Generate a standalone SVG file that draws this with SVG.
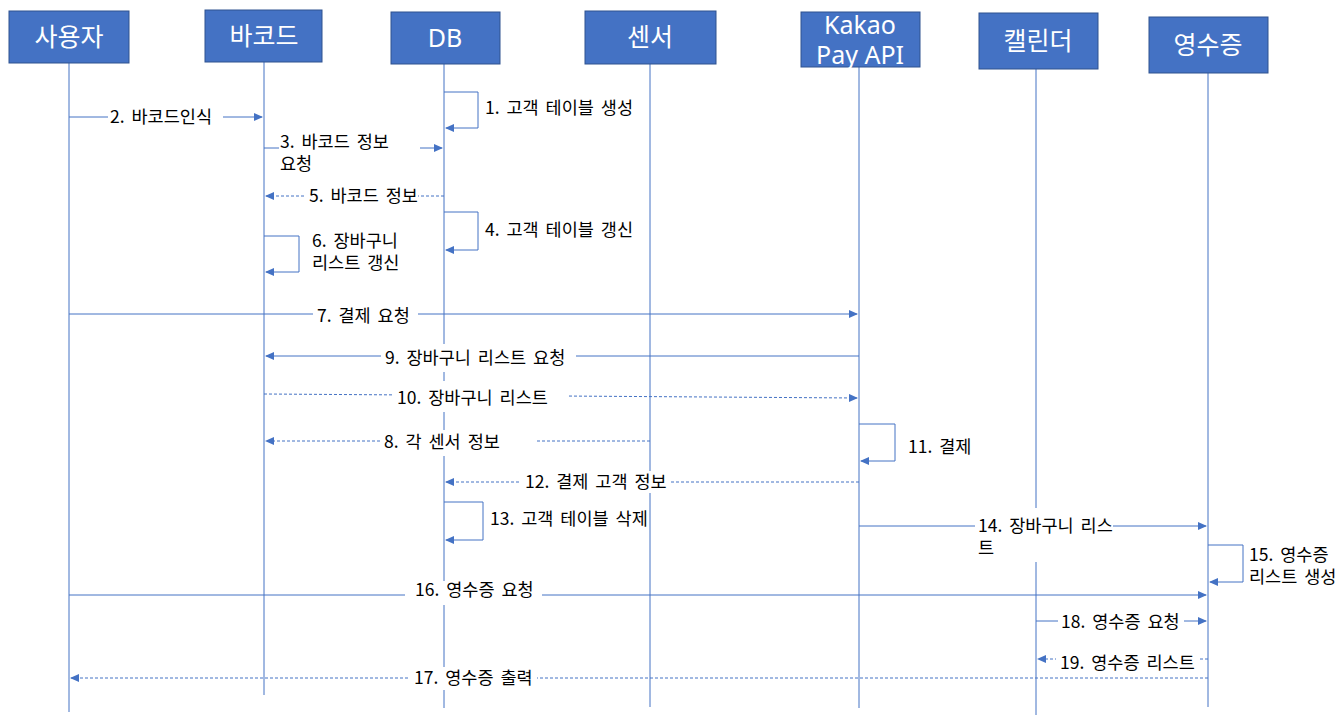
<svg xmlns="http://www.w3.org/2000/svg" width="1338" height="722" viewBox="0 0 1338 722">
<style>
.box{fill:#4472C4;stroke:#2F528F;stroke-width:1}
.ht{fill:#fff;font-family:"Noto Sans","Noto Sans CJK KR",sans-serif;font-size:25px;text-anchor:middle}
.life{stroke:#4472C4;stroke-width:1;fill:none}
.msg{stroke:#4472C4;stroke-width:1;fill:none;marker-end:url(#ah)}
.dash{stroke-dasharray:3 2}
.bg{fill:#fff}
.lb{fill:#000;font-family:"Noto Sans CJK KR","Noto Sans",sans-serif;font-size:17.5px;word-spacing:3px}
</style>
<defs>
<marker id="ah" markerUnits="userSpaceOnUse" markerWidth="9" markerHeight="8" refX="8" refY="4" orient="auto">
<path d="M0,0 L9,4 L0,8 z" fill="#4472C4"/>
</marker>
</defs>
<rect width="1338" height="722" fill="#fff"/>
<g id="user">
<line class="life" x1="69" y1="63" x2="69" y2="712"/>
<rect class="box" x="9" y="11" width="120" height="52"/>
<text class="ht" x="69" y="46">사용자</text>
</g>
<g id="barcode">
<line class="life" x1="264" y1="62" x2="264" y2="695"/>
<rect class="box" x="205" y="10" width="117" height="52"/>
<text class="ht" x="264" y="45">바코드</text>
</g>
<g id="db">
<line class="life" x1="444" y1="64" x2="444" y2="708"/>
<rect class="box" x="391" y="12" width="109" height="52"/>
<text class="ht" x="445" y="47">DB</text>
</g>
<g id="sensor">
<line class="life" x1="650" y1="64" x2="650" y2="707"/>
<rect class="box" x="585" y="11" width="131" height="53"/>
<text class="ht" x="650" y="46">센서</text>
</g>
<g id="kakao">
<line class="life" x1="859" y1="67" x2="859" y2="708"/>
<rect class="box" x="801" y="12" width="119" height="55"/>
<text class="ht" x="860" y="34">Kakao</text>
<text class="ht" x="860" y="64">Pay API</text>
</g>
<g id="calendar">
<line class="life" x1="1036" y1="69" x2="1036" y2="715"/>
<rect class="box" x="979" y="13" width="119" height="56"/>
<text class="ht" x="1038" y="50">캘린더</text>
</g>
<g id="receipt">
<line class="life" x1="1208" y1="73" x2="1208" y2="707"/>
<rect class="box" x="1149" y="17" width="119" height="56"/>
<text class="ht" x="1208" y="54">영수증</text>
</g>
<g id="connectors">
<path class="msg" d="M444,92 H478 V128 H446"/>
<text class="lb" x="485" y="114">1. 고객 테이블 생성</text>

<line class="msg" x1="69" y1="117" x2="262" y2="117"/>
<rect class="bg" x="108" y="107" width="115" height="21"/>
<text class="lb" x="110" y="123">2. 바코드인식</text>

<line class="msg" x1="264" y1="148" x2="442" y2="148"/>
<rect class="bg" x="279" y="133" width="141" height="42"/>
<text class="lb" x="280" y="148">3. 바코드 정보</text>
<text class="lb" x="280" y="170">요청</text>

<line class="msg dash" x1="444" y1="196" x2="266" y2="196"/>
<rect class="bg" x="305" y="186" width="113" height="21"/>
<text class="lb" x="309" y="202">5. 바코드 정보</text>

<path class="msg" d="M444,212 H478 V250 H446"/>
<text class="lb" x="485" y="236">4. 고객 테이블 갱신</text>

<path class="msg" d="M264,236 H299 V272 H266"/>
<text class="lb" x="312" y="247">6. 장바구니</text>
<text class="lb" x="312" y="269">리스트 갱신</text>

<line class="msg" x1="69" y1="314" x2="857" y2="314"/>
<rect class="bg" x="313" y="304" width="105" height="22"/>
<text class="lb" x="317" y="322">7. 결제 요청</text>

<line class="msg" x1="859" y1="356" x2="266" y2="356"/>
<rect class="bg" x="381" y="344" width="195" height="28"/>
<text class="lb" x="385" y="364">9. 장바구니 리스트 요청</text>

<line class="msg dash" x1="264" y1="394" x2="857" y2="398"/>
<rect class="bg" x="393" y="381" width="174" height="31"/>
<text class="lb" x="397" y="404">10. 장바구니 리스트</text>

<line class="msg dash" x1="650" y1="441" x2="266" y2="441"/>
<rect class="bg" x="380" y="430" width="155" height="26"/>
<text class="lb" x="384" y="448">8. 각 센서 정보</text>

<path class="msg" d="M859,424 H895 V461 H861"/>
<text class="lb" x="908" y="453">11. 결제</text>

<line class="msg dash" x1="859" y1="482" x2="446" y2="482"/>
<rect class="bg" x="521" y="471" width="149" height="22"/>
<text class="lb" x="525" y="488">12. 결제 고객 정보</text>

<path class="msg" d="M444,502 H483 V540 H446"/>
<text class="lb" x="490" y="525">13. 고객 테이블 삭제</text>

<line class="msg" x1="859" y1="526" x2="1206" y2="526"/>
<rect class="bg" x="975" y="508" width="138" height="54"/>
<text class="lb" x="978" y="532">14. 장바구니 리스</text>
<text class="lb" x="978" y="554">트</text>

<path class="msg" d="M1208,545 H1243 V582 H1210"/>
<text class="lb" x="1249" y="561">15. 영수증</text>
<text class="lb" x="1249" y="583">리스트 생성</text>

<line class="msg" x1="69" y1="595" x2="1206" y2="595"/>
<rect class="bg" x="405" y="581" width="137" height="24"/>
<text class="lb" x="415" y="596">16. 영수증 요청</text>

<line class="msg" x1="1036" y1="621" x2="1206" y2="621"/>
<rect class="bg" x="1058" y="611" width="126" height="21"/>
<text class="lb" x="1061" y="628">18. 영수증 요청</text>

<line class="msg dash" x1="1208" y1="659" x2="1038" y2="659"/>
<rect class="bg" x="1056" y="650" width="144" height="22"/>
<text class="lb" x="1060" y="669">19. 영수증 리스트</text>

<line class="msg dash" x1="1208" y1="678" x2="71" y2="678"/>
<rect class="bg" x="410" y="667" width="127" height="23"/>
<text class="lb" x="414" y="684">17. 영수증 출력</text>
</g>
</svg>
